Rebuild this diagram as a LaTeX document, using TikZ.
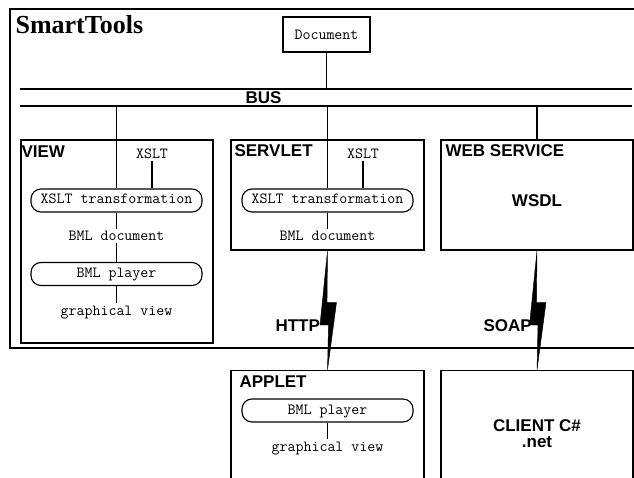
\documentclass[tikz,border=0pt]{standalone}
\usepackage{fontspec}
\setmainfont{Liberation Serif}
\setsansfont{Liberation Sans}
\newcommand{\mytt}{\ttfamily\fontsize{15.5}{18}\selectfont}
\newcommand{\mysans}{\sffamily\bfseries\fontsize{17}{16}\selectfont}
\newcommand{\mytitle}{\rmfamily\bfseries\fontsize{26}{30}\selectfont}
\begin{document}
\begin{tikzpicture}[x=1pt,y=-1pt,line width=1.1pt,
  box/.style={draw,rectangle,inner sep=0pt},
  pill/.style={draw,rounded corners=10pt,minimum width=171pt,minimum height=23pt,
    font=\mytt,text height=9.5pt,text depth=2.5pt,inner sep=0pt},
  mlabel/.style={font=\mytt,inner sep=1.5pt},
  blabel/.style={font=\mysans,inner sep=0pt},
  bolt/.style={fill=black,draw=black,line width=0.4pt,line join=miter}]
\useasboundingbox (0,0) rectangle (634,478);
\clip (0,0) rectangle (634,478);
% outer frame
\draw (10,9) rectangle (700,348);
\node[blabel,font=\mytitle,anchor=base west] (title) at (15,34) {SmartTools};
\node[box,minimum width=87pt,minimum height=35pt,font=\mytt] (doc) at (326.5,34.5) {Document};
% bus
\coordinate (busT) at (20,89); \coordinate (busTr) at (632,89);
\coordinate (busB) at (20,106); \coordinate (busBr) at (632,106);
\draw (busT) -- (busTr);
\draw (busB) -- (busBr);
\node[blabel,anchor=base] (bus) at (263.5,104) {BUS};
\draw (doc.south) -- (doc.south |- busT);
% VIEW
\node[box,minimum width=192pt,minimum height=203pt] (view) at (117,241.5) {};
\node[blabel,anchor=base west] (viewl) at (21,157.5) {VIEW};
\node[mlabel,anchor=base] (vx) at (152,159) {XSLT};
\node[pill] (vxt) at (116.5,200.5) {XSLT transformation};
\node[mlabel,anchor=base] (vbd) at (116.5,241) {BML document};
\node[pill] (vbp) at (116.5,274) {BML player};
\node[mlabel,anchor=base] (vgv) at (116.5,315) {graphical view};
\draw (vxt.north |- busB) -- (vxt.north);
\draw (vx.south) -- (vx.south |- vxt.north);
\draw (vxt.south) -- (vbd.north);
\draw (vbd.south) -- (vbp.north);
\draw (vbp.south) -- (vgv.north);
% SERVLET
\node[box,minimum width=193pt,minimum height=110pt] (sv) at (327.5,195) {};
\node[blabel,anchor=base west] (svl) at (234,157) {SERVLET};
\node[mlabel,anchor=base] (sx) at (363,159) {XSLT};
\node[pill] (sxt) at (327.5,200.5) {XSLT transformation};
\node[mlabel,anchor=base] (sbd) at (327.5,241) {BML document};
\draw (sxt.north |- busB) -- (sxt.north);
\draw (sx.south) -- (sx.south |- sxt.north);
\draw (sxt.south) -- (sbd.north);
% WEB SERVICE
\node[box,minimum width=192pt,minimum height=110pt] (ws) at (537,195) {};
\node[blabel,anchor=base west] (wsl) at (445,157) {WEB SERVICE};
\node[blabel] (wsdl) at (537,200.5) {WSDL};
\draw (ws.north |- busB) -- (ws.north);
% APPLET
\node[box,minimum width=193pt,minimum height=140pt,anchor=north] (ap) at (327.5,370) {};
\node[blabel,anchor=base west] (apl) at (239,387) {APPLET};
\node[pill] (abp) at (327.5,410.5) {BML player};
\node[mlabel,anchor=base] (agv) at (327.5,451) {graphical view};
\draw (abp.south) -- (agv.north);
% CLIENT
\node[box,minimum width=192pt,minimum height=140pt,anchor=north] (cl) at (537,370) {};
\node[blabel,align=center] (clt) at (537,434) {CLIENT C\#\\.net};
% bolts
\fill[bolt] (sv.south) -- +(-0.5,52) -- +(9,52) -- (ap.north) -- +(1,-45) -- +(-7.5,-45) -- cycle;
\fill[bolt] (ws.south) -- +(-0.5,52) -- +(9,52) -- (cl.north) -- +(1,-45) -- +(-7.5,-45) -- cycle;
\node[blabel,anchor=base west] (http) at (275,331) {HTTP};
\node[blabel,anchor=base west] (soap) at (483,331) {SOAP};
\end{tikzpicture}
\end{document}
